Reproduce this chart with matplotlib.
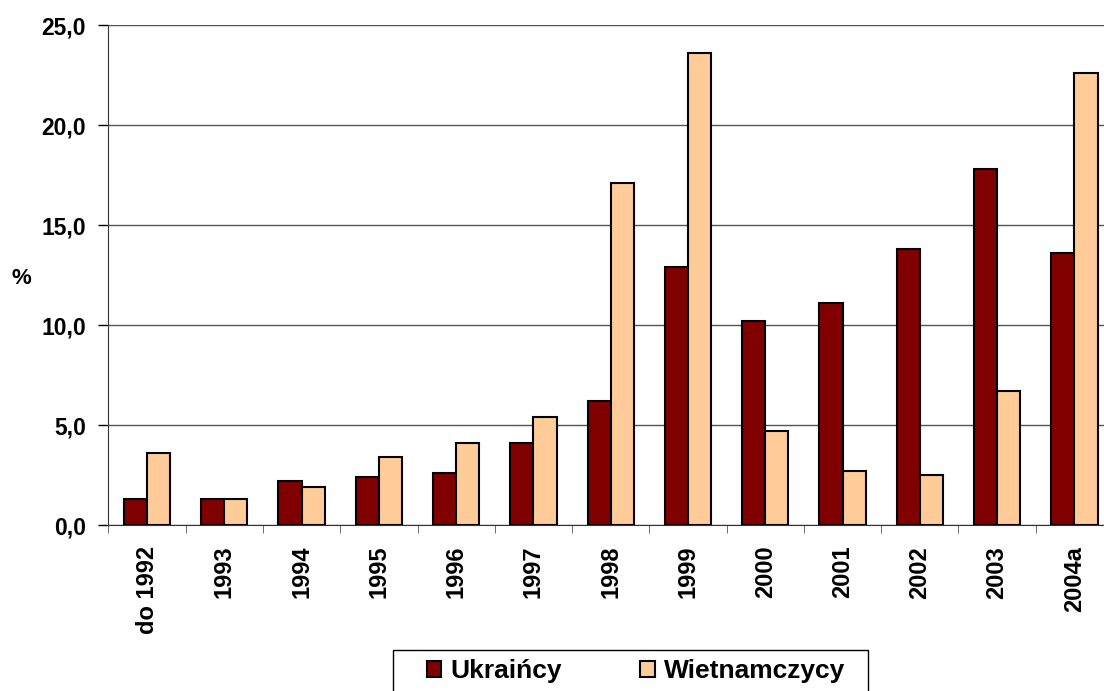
import numpy as np
import matplotlib
matplotlib.use("Agg")
import matplotlib.pyplot as plt
from matplotlib.patches import Rectangle

plt.rcParams['font.family'] = ['Liberation Sans', 'DejaVu Sans']
plt.rcParams['font.weight'] = 'bold'

# dane
years = ['do 1992', '1993', '1994', '1995', '1996', '1997', '1998',
         '1999', '2000', '2001', '2002', '2003', '2004a']
ukraincy = [1.3, 1.3, 2.2, 2.4, 2.6, 4.1, 6.2, 12.9, 10.2, 11.1, 13.8, 17.8, 13.6]
wietnamczycy = [3.6, 1.3, 1.9, 3.4, 4.1, 5.4, 17.1, 23.6, 4.7, 2.7, 2.5, 6.7, 22.6]

W, H = 1104, 691
fig = plt.figure(figsize=(W / 100, H / 100), dpi=100)
left, right, top, bottom = 108.4, 1113, 25, 525
ax = fig.add_axes([left / W, 1 - bottom / H, (right - left) / W, (bottom - top) / H])

x = np.arange(len(years))
bw = 0.30
ax.bar(x - bw / 2, ukraincy, bw, color='#800000', edgecolor='black', linewidth=1.5,
       label='Ukraińcy', zorder=3)
ax.bar(x + bw / 2, wietnamczycy, bw, color='#FFCC99', edgecolor='black', linewidth=1.5,
       label='Wietnamczycy', zorder=3)

ax.set_xlim(-0.5, len(years) - 0.5)
ax.set_ylim(0, 25)
ax.set_yticks(np.arange(0, 26, 5))
ax.set_yticklabels([f'{v:.1f}'.replace('.', ',') for v in np.arange(0, 26, 5)],
                   fontsize=16.5, fontweight='bold')
ax.yaxis.grid(True, color='#555555', linewidth=1, zorder=0)

ax.set_xticks(x)
ax.set_xticklabels(years, rotation=90, fontsize=17, fontweight='bold', va='top')
ax.tick_params(axis='x', length=0, pad=15)
ax.set_xticks(np.arange(-0.5, len(years), 1), minor=True)
ax.tick_params(axis='x', which='minor', length=6, color='#555555')
ax.tick_params(axis='y', length=7, width=1, pad=9)

for s in ['top', 'right']:
    ax.spines[s].set_visible(False)
ax.spines['left'].set_color('#333333')
ax.spines['bottom'].set_color('#333333')

fig.text(21 / W, 1 - 278 / H, '%', fontsize=16, fontweight='bold', ha='center', va='center')

# ramka legendy (przycięta dołem jak w oryginale)
fig.patches.append(Rectangle((393 / W, -0.01), (868 - 393) / W, (691 - 650) / H + 0.01,
                             transform=fig.transFigure, fill=False, edgecolor='black',
                             linewidth=1))
leg = fig.legend(loc='center', bbox_to_anchor=(636 / W, 1 - 671 / H), ncol=2,
                 fontsize=19, frameon=False,
                 handlelength=0.55, handleheight=0.55, handletextpad=0.35,
                 columnspacing=2.95, borderpad=0, borderaxespad=0)
for t in leg.get_texts():
    t.set_fontweight('bold')

fig.savefig('out.png', dpi=100)
